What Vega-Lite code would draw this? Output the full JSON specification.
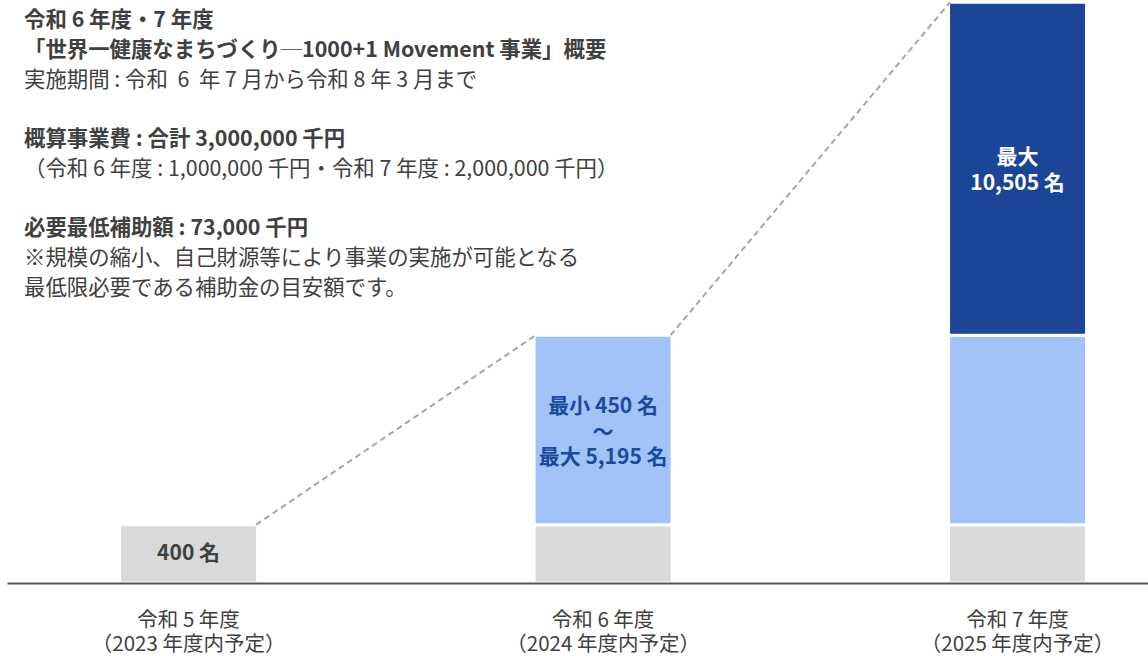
{
  "$schema": "https://vega.github.io/schema/vega-lite/v6.json",
  "autosize": {"type": "none"},
  "padding": {"left": 7, "top": 0, "right": 0, "bottom": 73},
  "width": 1141,
  "height": 583,
  "background": "white",
  "config": {"font": "Noto Sans CJK JP", "view": {"stroke": null}},
  "datasets": {
    "segments": [
      {"year": "令和 5 年度|（2023 年度内予定）", "seg": "実績", "level": 1, "value": 400, "label": "400 名"},
      {"year": "令和 6 年度|（2024 年度内予定）", "seg": "実績", "level": 1, "value": 400, "label": ""},
      {"year": "令和 6 年度|（2024 年度内予定）", "seg": "最小", "level": 2, "value": 1300, "label": ["最小 450 名", "～", "最大 5,195 名"]},
      {"year": "令和 7 年度|（2025 年度内予定）", "seg": "実績", "level": 1, "value": 400, "label": ""},
      {"year": "令和 7 年度|（2025 年度内予定）", "seg": "最小", "level": 2, "value": 1300, "label": ""},
      {"year": "令和 7 年度|（2025 年度内予定）", "seg": "最大", "level": 3, "value": 2285, "label": ["最大", "10,505 名"]}
    ],
    "links": [
      {"from": "令和 5 年度|（2023 年度内予定）", "to": "令和 6 年度|（2024 年度内予定）", "start": 400, "end": 1700},
      {"from": "令和 6 年度|（2024 年度内予定）", "to": "令和 7 年度|（2025 年度内予定）", "start": 1700, "end": 3985}
    ],
    "notes": [
      {"line": 0, "kind": "heading", "text": "令和 6 年度・7 年度"},
      {"line": 1, "kind": "heading", "text": "「世界一健康なまちづくり─1000+1 Movement 事業」概要"},
      {"line": 2, "kind": "body", "text": "実施期間 : 令和 \u00a06\u00a0 年 7 月から令和 8 年 3 月まで"},
      {"line": 4, "kind": "heading", "text": "概算事業費 : 合計 3,000,000 千円"},
      {"line": 5, "kind": "body", "text": "（令和 6 年度 : 1,000,000 千円・令和 7 年度 : 2,000,000 千円）"},
      {"line": 7, "kind": "heading", "text": "必要最低補助額 : 73,000 千円"},
      {"line": 8, "kind": "body", "text": "※規模の縮小、自己財源等により事業の実施が可能となる"},
      {"line": 9, "kind": "body", "text": "最低限必要である補助金の目安額です。"}
    ]
  },
  "layer": [
    {
      "data": {"name": "segments"},
      "layer": [
        {
          "mark": {"type": "bar", "stroke": "white", "strokeWidth": 3},
          "encoding": {
            "x": {
              "field": "year", "type": "nominal", "sort": null, "title": null,
              "scale": {"domain": ["令和 5 年度|（2023 年度内予定）", "令和 6 年度|（2024 年度内予定）", "令和 7 年度|（2025 年度内予定）"], "paddingInner": 0.667, "paddingOuter": 0.2099, "align": 0.647},
              "axis": {"title": null, "labelExpr": "split(datum.label, '|')", "labelFontSize": 20.5, "labelColor": "#404040", "labelLineHeight": 24, "labelPadding": 27, "labelLimit": 0, "ticks": false, "domainColor": "#555555", "domainWidth": 2, "zindex": 1, "labelAngle": 0, "labelFont": "Noto Sans CJK JP"}
            },
            "y": {"field": "value", "type": "quantitative", "stack": "zero", "scale": {"domain": [0, 4000], "nice": false}, "axis": null},
            "color": {"field": "seg", "type": "nominal", "scale": {"domain": ["実績", "最小", "最大"], "range": ["#d9d9d9", "#a1c3f7", "#1c4597"]}, "legend": null},
            "order": {"field": "level", "type": "quantitative"}
          }
        },
        {
          "mark": {"type": "text", "fontSize": 21, "fontWeight": "bold", "lineHeight": 25.5, "baseline": "middle", "align": "center", "color": "#404040"},
          "encoding": {
            "x": {"field": "year", "type": "nominal", "sort": null, "bandPosition": 0.5},
            "y": {"field": "value", "type": "quantitative", "stack": "zero", "bandPosition": 0.5},
            "detail": {"field": "seg", "type": "nominal"},
            "order": {"field": "level", "type": "quantitative"},
            "text": {"condition": {"test": "datum.seg === '実績'", "field": "label"}, "value": ""}
          }
        },
        {
          "mark": {"type": "text", "fontSize": 21, "fontWeight": "bold", "lineHeight": 25.5, "baseline": "middle", "align": "center", "color": "#1a4a9e", "dy": -22.5},
          "encoding": {
            "x": {"field": "year", "type": "nominal", "sort": null, "bandPosition": 0.5},
            "y": {"field": "value", "type": "quantitative", "stack": "zero", "bandPosition": 0.5},
            "detail": {"field": "seg", "type": "nominal"},
            "order": {"field": "level", "type": "quantitative"},
            "text": {"condition": {"test": "datum.seg === '最小'", "field": "label"}, "value": ""}
          }
        },
        {
          "mark": {"type": "text", "fontSize": 21, "fontWeight": "bold", "lineHeight": 25.5, "baseline": "middle", "align": "center", "color": "#ffffff", "dy": -10.5},
          "encoding": {
            "x": {"field": "year", "type": "nominal", "sort": null, "bandPosition": 0.5},
            "y": {"field": "value", "type": "quantitative", "stack": "zero", "bandPosition": 0.5},
            "detail": {"field": "seg", "type": "nominal"},
            "order": {"field": "level", "type": "quantitative"},
            "text": {"condition": {"test": "datum.seg === '最大'", "field": "label"}, "value": ""}
          }
        },
        {
          "data": {"name": "links"},
          "mark": {"type": "rule", "strokeDash": [6, 4], "color": "#a6a6a6", "strokeWidth": 2, "xOffset": 67.5, "x2Offset": -67.5},
          "encoding": {
            "x": {"field": "from", "type": "nominal", "sort": null, "bandPosition": 0.5},
            "x2": {"field": "to", "bandPosition": 0.5},
            "y": {"field": "start", "type": "quantitative"},
            "y2": {"field": "end"}
          }
        }
      ]
    },
    {
      "data": {"name": "notes"},
      "encoding": {
        "x": {"datum": 0, "type": "quantitative", "scale": {"domain": [0, 1], "range": [17, 1141]}, "axis": null},
        "y": {"field": "line", "type": "ordinal", "scale": {"type": "point", "domain": [0, 1, 2, 3, 4, 5, 6, 7, 8, 9], "range": [21, 289], "padding": 0}, "axis": null},
        "text": {"field": "text"}
      },
      "layer": [
        {"transform": [{"filter": "datum.kind === 'heading'"}], "mark": {"type": "text", "align": "left", "baseline": "middle", "fontSize": 21.4, "fontWeight": "bold", "color": "#404040"}},
        {"transform": [{"filter": "datum.kind === 'body'"}], "mark": {"type": "text", "align": "left", "baseline": "middle", "fontSize": 21.4, "fontWeight": "normal", "color": "#404040"}}
      ]
    }
  ],
  "resolve": {"scale": {"x": "independent", "y": "independent"}}
}
